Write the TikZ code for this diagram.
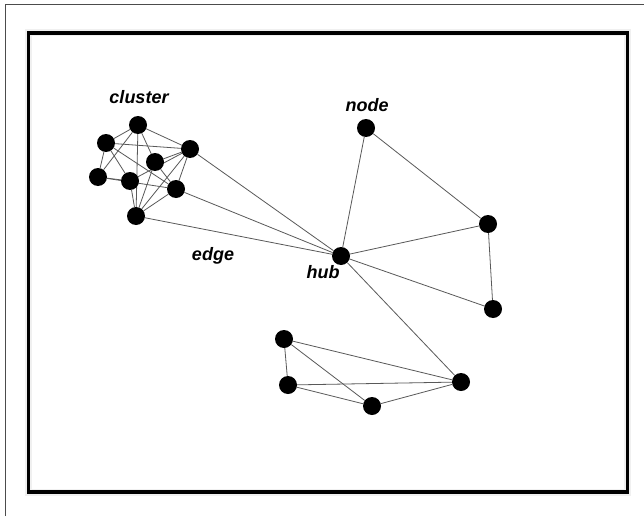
\documentclass[tikz,border=0pt]{standalone}
\usepackage{fontspec}
\setmainfont{Liberation Sans}
\pgfdeclarelayer{links}
\pgfsetlayers{links,main}
\begin{document}
\begin{tikzpicture}[x=1pt,y=-1pt,
  vertex/.style={circle,fill=black,draw=none,minimum size=18pt,inner sep=0pt},
  link/.style={draw=black!65,line width=0.8pt},
  tag/.style={font=\fontsize{18}{20}\selectfont\bfseries\itshape,inner sep=0pt}]
\useasboundingbox (0,0) rectangle (644,516);

% cluster nodes
\node[vertex] (a) at (138,125) {};
\node[vertex] (b) at (106,143) {};
\node[vertex] (c) at (190,149) {};
\node[vertex] (d) at (155,162) {};
\node[vertex] (e) at (98,177) {};
\node[vertex] (f) at (130,181) {};
\node[vertex] (g) at (176,189) {};
\node[vertex] (h) at (136,216) {};
% hub and its neighbours
\node[vertex] (hub) at (341,256) {};
\node[vertex] (top) at (366,128) {};
\node[vertex] (r1) at (488,224) {};
\node[vertex] (r2) at (493,309) {};
% lower group
\node[vertex] (p1) at (284,339) {};
\node[vertex] (p2) at (288,385) {};
\node[vertex] (p3) at (372,406) {};
\node[vertex] (p4) at (461,382) {};

% labels
\node[tag] (lcluster) at (139,97) {cluster};
\node[tag] (ledge) at (213,256) {edge};
\node[tag] (lnode) at (367,105) {node};
\node[tag] (lhub) at (323,272) {hub};

\begin{pgfonlayer}{links}
  \fill[white] (0,0) rectangle (644,516);
  % outer page edge
  \draw[black!70,line width=1pt] (5,516) -- (5,5) -- (644,5);
  % framed panel
  \draw[black!6,line width=7pt] (28.5,33) rectangle (627.5,492);
  \draw[black,line width=3.5pt] (28.5,33) rectangle (627.5,492);
  % connectors
  \foreach \u/\v in {a/b,a/c,a/d,a/e,a/h,b/c,b/e,b/f,b/g,c/d,c/f,c/g,c/h,d/h,d/g,e/f,e/g,f/h,g/h,
    hub/c,hub/g,hub/h,hub/top,hub/r1,hub/r2,hub/p4,top/r1,r1/r2,
    p1/p2,p1/p3,p1/p4,p2/p3,p2/p4,p3/p4}
    \draw[link] (\u) -- (\v);
\end{pgfonlayer}
\end{tikzpicture}
\end{document}
